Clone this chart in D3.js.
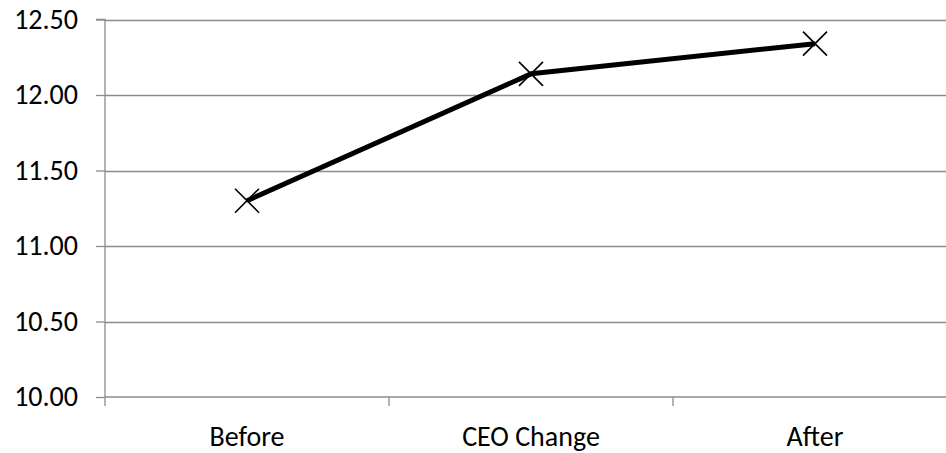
<!DOCTYPE html>
<html><head><meta charset="utf-8">
<script src="https://cdn.jsdelivr.net/npm/d3@7"></script>
<style>body{margin:0;background:#fff}svg{display:block}</style>
</head><body>
<svg id="c" width="946" height="453"></svg>
<script>
const categories = ["Before", "CEO Change", "After"];
const values = [11.30, 12.14, 12.34];
const yTicks = [10.0, 10.5, 11.0, 11.5, 12.0, 12.5];

(function () {
const svg = d3.select("#c");
const mLeft = 105, mTop = 19.5, mBottom = 397, bandW = 284;
const x = d3.scaleBand().domain(categories).range([mLeft, mLeft + bandW * categories.length]);
const y = d3.scaleLinear().domain([10, 12.5]).range([mBottom, mTop]);
const font = "Calibri, Carlito, 'Open Sans', sans-serif";
const fs = 28;

// gridlines
svg.append("g").selectAll("line").data(yTicks.slice(1)).join("line")
  .attr("x1", mLeft).attr("x2", 946)
  .attr("y1", d => Math.round(y(d)) + 0.5).attr("y2", d => Math.round(y(d)) + 0.5)
  .attr("stroke", "#8c8c8c").attr("stroke-width", 1.3);

// y axis
const ya = svg.append("g").attr("transform", `translate(${mLeft},0)`)
  .call(d3.axisLeft(y).tickValues(yTicks).tickFormat(d3.format(".2f")).tickSize(9).tickPadding(18));
ya.select(".domain").attr("stroke", "#8c8c8c").attr("stroke-width", 1.3).attr("d", `M-9,${mTop}H0V${mBottom}`);
ya.selectAll(".tick line").attr("stroke", "#8c8c8c").attr("stroke-width", 1.3);
ya.selectAll(".tick text").attr("font-family", font).attr("font-size", fs).attr("fill", "#000");

// x axis
const xa = svg.append("g").attr("transform", `translate(0,${mBottom})`)
  .call(d3.axisBottom(x).tickSize(0).tickPadding(29));
xa.select(".domain").attr("stroke", "#8c8c8c").attr("stroke-width", 1.3).attr("d", `M${mLeft},0H946`);
xa.selectAll(".tick text").attr("font-family", font).attr("font-size", fs).attr("fill", "#000");
svg.append("g").selectAll("line").data(categories).join("line")
  .attr("x1", d => x(d)).attr("x2", d => x(d)).attr("y1", mBottom).attr("y2", mBottom + 9)
  .attr("stroke", "#8c8c8c").attr("stroke-width", 1.3);

// line
const pts = categories.map((c, i) => [x(c) + x.bandwidth() / 2, y(values[i])]);
svg.append("path").attr("d", d3.line()(pts)).attr("fill", "none")
  .attr("stroke", "#000").attr("stroke-width", 5).attr("stroke-linejoin", "round");

// markers
const s = 12;
svg.append("g").selectAll("path").data(pts).join("path")
  .attr("d", d => `M${d[0]-s},${d[1]-s}L${d[0]+s},${d[1]+s}M${d[0]-s},${d[1]+s}L${d[0]+s},${d[1]-s}`)
  .attr("stroke", "#000").attr("stroke-width", 1.6).attr("fill", "none");
})();
</script>
</body></html>
